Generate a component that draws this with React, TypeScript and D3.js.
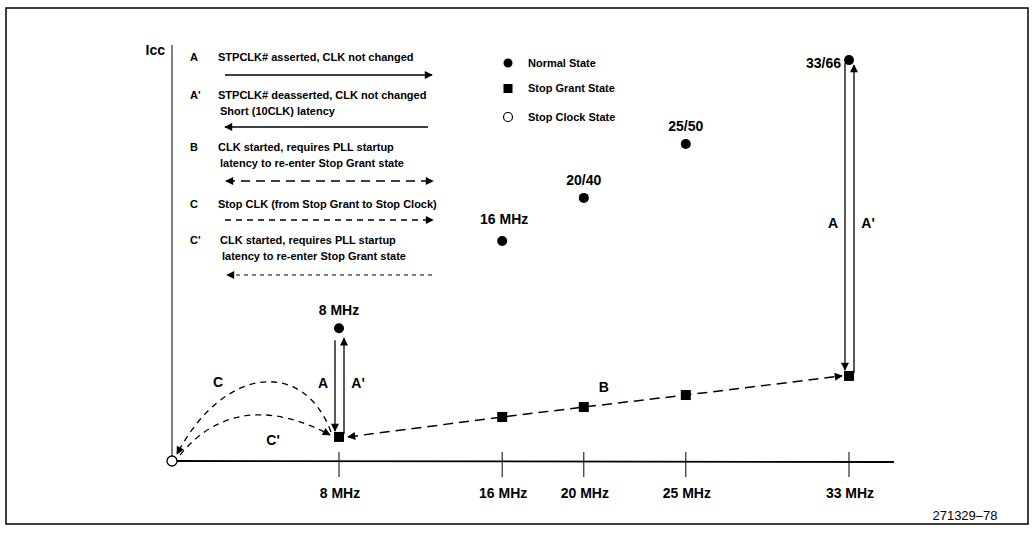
import React from "react";
import * as d3 from "d3";

const freqs = [8, 16, 20, 25, 33];
const tickLabels = ["8 MHz", "16 MHz", "20 MHz", "25 MHz", "33 MHz"];
const normalIcc = [32, 53, 63.4, 76.4, 96.6];
const normalLabels = ["8 MHz", "16 MHz", "20/40", "25/50", "33/66"];
const stopGrantIcc = [5.8, 10.6, 13, 15.9, 20.5];
const stopClockIcc = 0;

const legendKeys = ["A", "A'", "B", "C", "C'"];
const legendTexts = [
  ["STPCLK# asserted, CLK not changed"],
  ["STPCLK# deasserted, CLK not changed", "Short (10CLK) latency"],
  ["CLK started, requires PLL startup", "latency to re-enter Stop Grant state"],
  ["Stop CLK (from Stop Grant to Stop Clock)"],
  ["CLK started, requires PLL startup", "latency to re-enter Stop Grant state"],
];
const stateLegend = ["Normal State", "Stop Grant State", "Stop Clock State"];

const W = 1034;
const H = 533;
const FONT = "'Liberation Sans', Arial, Helvetica, sans-serif";

export default function App() {
  const x = d3.scaleLinear().domain([0, 8, 33]).range([172, 339, 849]);
  const y = d3.scaleLinear().domain([0, 100]).range([461, 46]);
  const x0 = x(0);
  const y0 = y(stopClockIcc);

  const sgPts: [number, number][] = freqs.map((f, i) => [x(f), y(stopGrantIcc[i])]);
  const bPts: [number, number][] = sgPts.map((p, i) => {
    if (i === 0) return [p[0] + 9, p[1]];
    if (i === sgPts.length - 1) return [p[0] - 7, p[1]];
    return p;
  });
  const bLine = d3.line()(bPts) || "";

  const s8 = sgPts[0];
  const cPath = d3.path();
  cPath.moveTo(s8[0] - 8, s8[1] - 5);
  cPath.bezierCurveTo(s8[0] - 35, s8[1] - 78, s8[0] - 115, s8[1] - 72, x0 + 5, y0 - 7);
  const cpPath = d3.path();
  cpPath.moveTo(x0 + 8, y0 - 6);
  cpPath.bezierCurveTo(x0 + 48, y0 - 55, s8[0] - 65, s8[1] - 32, s8[0] - 9, s8[1] - 2);

  const arrowPairs = [0, 4].map((i) => {
    const cx = x(freqs[i]);
    const yn = y(normalIcc[i]);
    const ys = y(stopGrantIcc[i]);
    return { cx, yn, ys, i };
  });

  const legendRowY = [61, 99, 151, 208, 244];
  const legendArrowY = [75, 127, 181, 220, 275];

  return (
    <svg width={W} height={H} style={{ display: "block", position: "absolute", left: 0, top: 0 }} fontFamily={FONT}>
      <defs>
        <marker id="ah" viewBox="0 0 10 10" refX="9" refY="5" markerWidth="10" markerHeight="8" markerUnits="userSpaceOnUse" orient="auto-start-reverse">
          <path d="M0,0 L10,5 L0,10 Z" fill="#000" />
        </marker>
        <marker id="ahs" viewBox="0 0 10 10" refX="9" refY="5" markerWidth="9" markerHeight="8" markerUnits="userSpaceOnUse" orient="auto-start-reverse">
          <path d="M0,0 L10,5 L0,10 Z" fill="#000" />
        </marker>
      </defs>
      <rect x={0} y={0} width={W} height={H} fill="#fff" />
      <rect x={6} y={8} width={1022} height={516} fill="none" stroke="#000" strokeWidth={1.5} />

      {/* axes */}
      <line x1={x0} x2={x0} y1={45} y2={y0} stroke="#000" strokeWidth={1} />
      <line x1={x0} x2={894} y1={y0} y2={y0 + 1} stroke="#000" strokeWidth={1.8} />
      <text x={165} y={55} textAnchor="end" fontSize={14} fontWeight="bold">Icc</text>
      {freqs.map((f, i) => (
        <g key={"t" + f}>
          <line x1={x(f)} x2={x(f)} y1={452} y2={477} stroke="#000" strokeWidth={1} />
          <text x={x(f) + 1} y={498} textAnchor="middle" fontSize={14} fontWeight="bold">{tickLabels[i]}</text>
        </g>
      ))}

      {/* B dashed line */}
      <path d={bLine} fill="none" stroke="#000" strokeWidth={1.5} strokeDasharray="10,6" markerStart="url(#ah)" markerEnd="url(#ah)" />
      <text x={(x(20) + x(25)) / 2 - 31} y={392} textAnchor="middle" fontSize={14} fontWeight="bold">B</text>

      {/* C curves */}
      <path d={cPath.toString()} fill="none" stroke="#000" strokeWidth={1.3} strokeDasharray="6,5" markerEnd="url(#ahs)" />
      <path d={cpPath.toString()} fill="none" stroke="#000" strokeWidth={1.3} strokeDasharray="6,5" markerEnd="url(#ahs)" />
      <text x={218} y={387} textAnchor="middle" fontSize={14} fontWeight="bold">C</text>
      <text x={273} y={445} textAnchor="middle" fontSize={14} fontWeight="bold">C'</text>

      {/* A / A' arrows */}
      {arrowPairs.map(({ cx, yn, ys, i }) => (
        <g key={"ap" + i}>
          <line x1={cx - 4} x2={cx - 4} y1={yn + (i === 0 ? 12 : 3)} y2={ys - 6} stroke="#000" strokeWidth={1.3} markerEnd="url(#ah)" />
          <line x1={cx + 5} x2={cx + 5} y1={ys - 3} y2={yn + (i === 0 ? 10 : 5)} stroke="#000" strokeWidth={1.3} markerEnd="url(#ah)" />
          <text x={cx - 16} y={(i === 0 ? 388 : 228)} textAnchor="middle" fontSize={14} fontWeight="bold">A</text>
          <text x={cx + 19} y={(i === 0 ? 388 : 228)} textAnchor="middle" fontSize={14} fontWeight="bold">A'</text>
        </g>
      ))}

      {/* normal state dots */}
      {freqs.map((f, i) => (
        <circle key={"n" + f} cx={x(f)} cy={y(normalIcc[i])} r={5} fill="#000" />
      ))}
      {normalLabels.map((l, i) =>
        i === 4 ? (
          <text key={"nl" + i} x={x(freqs[i]) - 8} y={y(normalIcc[i]) + 8} textAnchor="end" fontSize={14} fontWeight="bold">{l}</text>
        ) : (
          <text key={"nl" + i} x={x(freqs[i]) + (i === 1 ? 2 : 0)} y={y(normalIcc[i]) - (i === 1 ? 17 : 13)} textAnchor="middle" fontSize={14} fontWeight="bold">{l}</text>
        )
      )}

      {/* stop grant squares */}
      {sgPts.map((p, i) => (
        <rect key={"s" + i} x={p[0] - 5} y={p[1] - 5} width={10} height={10} fill="#000" />
      ))}

      {/* stop clock */}
      <circle cx={x0} cy={y0} r={5} fill="#fff" stroke="#000" strokeWidth={1.3} />

      {/* left legend */}
      {legendKeys.map((k, i) => (
        <g key={"lg" + i} fontSize={11} fontWeight="bold">
          <text x={190} y={legendRowY[i]}>{k}</text>
          {legendTexts[i].map((t, j) => (
            <text key={j} x={218 + (i === 4 ? 2 : 0) + (j > 0 ? 2 : 0)} y={legendRowY[i] + j * 16}>{t}</text>
          ))}
        </g>
      ))}
      <line x1={225} x2={432} y1={legendArrowY[0]} y2={legendArrowY[0]} stroke="#000" strokeWidth={1.3} markerEnd="url(#ah)" />
      <line x1={428} x2={225} y1={legendArrowY[1]} y2={legendArrowY[1]} stroke="#000" strokeWidth={1.3} markerEnd="url(#ah)" />
      <line x1={226} x2={433} y1={legendArrowY[2]} y2={legendArrowY[2]} stroke="#000" strokeWidth={1.3} strokeDasharray="9,6" markerStart="url(#ah)" markerEnd="url(#ah)" />
      <line x1={225} x2={433} y1={legendArrowY[3]} y2={legendArrowY[3]} stroke="#000" strokeWidth={1.3} strokeDasharray="6,5" markerEnd="url(#ah)" />
      <line x1={432} x2={227} y1={legendArrowY[4]} y2={legendArrowY[4]} stroke="#000" strokeWidth={1} strokeDasharray="4,4" markerEnd="url(#ah)" />

      {/* state legend */}
      <g fontSize={11} fontWeight="bold">
        <circle cx={508} cy={63} r={4.5} fill="#000" />
        <text x={528} y={67}>{stateLegend[0]}</text>
        <rect x={503.5} y={84} width={9} height={9} fill="#000" />
        <text x={528} y={92}>{stateLegend[1]}</text>
        <circle cx={508} cy={117} r={4.5} fill="#fff" stroke="#000" strokeWidth={1.2} />
        <text x={528} y={121}>{stateLegend[2]}</text>
      </g>

      <text x={965} y={520} textAnchor="middle" fontSize={13}>271329–78</text>
    </svg>
  );
}
